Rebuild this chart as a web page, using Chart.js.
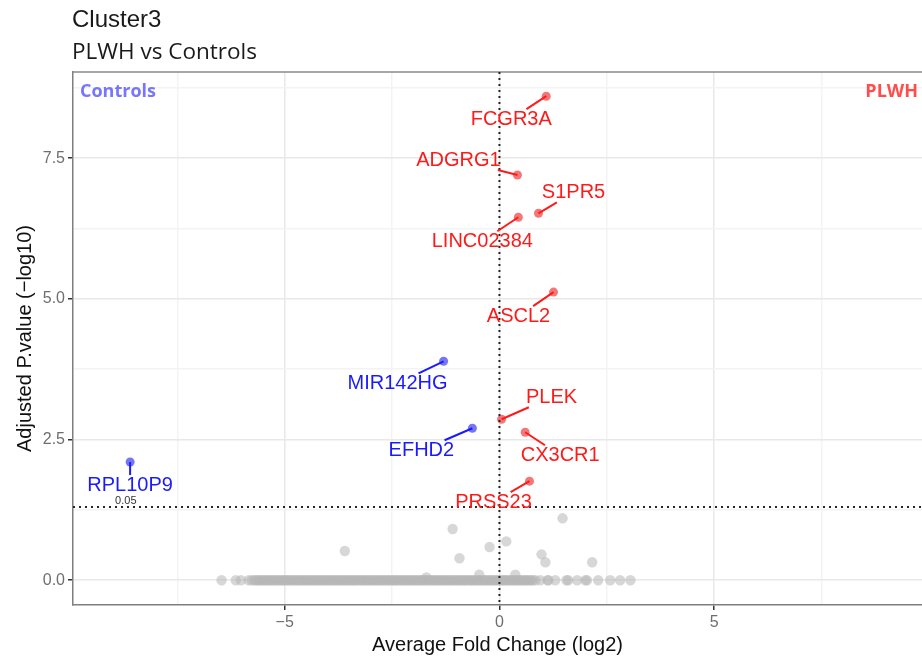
<!DOCTYPE html>
<html>
<head>
<meta charset="utf-8">
<script src="https://cdn.jsdelivr.net/npm/chart.js@4.4.1/dist/chart.umd.min.js"></script>
<style>
  html, body { margin: 0; padding: 0; background: #fff; }
  #wrap { position: relative; width: 922px; height: 660px; }
</style>
</head>
<body>
<div id="wrap"><canvas id="volcano" width="922" height="660"></canvas></div>
<script>
// Genes con etiqueta
const genes = ['FCGR3A', 'ADGRG1', 'S1PR5', 'LINC02384', 'ASCL2', 'MIR142HG', 'PLEK', 'EFHD2', 'CX3CR1', 'PRSS23', 'RPL10P9'];
const geneFC = [1.09, 0.42, 0.91, 0.44, 1.26, -1.30, 0.05, -0.63, 0.60, 0.70, -8.60];
const geneP = [8.60, 7.20, 6.52, 6.45, 5.12, 3.89, 2.86, 2.70, 2.63, 1.76, 2.10];
const geneGroup = ['up', 'up', 'up', 'up', 'up', 'down', 'up', 'down', 'up', 'up', 'down'];

// Genes no significativos dispersos (gris)
const nsFC = [-1.09, -0.23, 1.47, -3.60, -0.93, 0.16, 0.98, 1.07, 2.16, -0.47, 0.37, -1.70];
const nsP = [0.91, 0.59, 1.10, 0.52, 0.39, 0.69, 0.46, 0.32, 0.32, 0.10, 0.10, 0.05];

// Genes no significativos con p ajustado = 1 (-log10 = 0)
const zeroFC = [-6.47, -6.14, -6.02, -5.84, -5.77,
  -5.71, -5.67, -5.62, -5.59, -5.54, -5.51, -5.46, -5.42, -5.39, -5.34, -5.30, -5.27, -5.22, -5.18,
  -5.15, -5.10, -5.06, -5.03, -4.98, -4.94, -4.91, -4.86, -4.83, -4.78, -4.74, -4.71, -4.66, -4.62,
  -4.59, -4.54, -4.50, -4.47, -4.42, -4.38, -4.35, -4.30, -4.27, -4.22, -4.18, -4.15, -4.10, -4.06,
  -4.03, -3.98, -3.95, -3.90, -3.86, -3.83, -3.78, -3.74, -3.71, -3.66, -3.63, -3.58, -3.54, -3.51,
  -3.46, -3.42, -3.39, -3.34, -3.31, -3.26, -3.22, -3.19, -3.14, -3.10, -3.07, -3.02, -2.99, -2.94,
  -2.90, -2.87, -2.82, -2.78, -2.75, -2.70, -2.67, -2.62, -2.58, -2.55, -2.50, -2.46, -2.43, -2.38,
  -2.35, -2.30, -2.26, -2.23, -2.18, -2.14, -2.11, -2.06, -2.03, -1.98, -1.94, -1.91, -1.86, -1.82,
  -1.79, -1.74, -1.71, -1.66, -1.62, -1.59, -1.54, -1.50, -1.47, -1.42, -1.39, -1.34, -1.30, -1.27,
  -1.22, -1.18, -1.15, -1.10, -1.07, -1.02, -0.98, -0.95, -0.90, -0.86, -0.83, -0.78, -0.75, -0.70,
  -0.66, -0.63, -0.58, -0.54, -0.51, -0.46, -0.43, -0.38, -0.34, -0.31, -0.26, -0.22, -0.19, -0.14,
  -0.11, -0.06, -0.02, 0.01, 0.06, 0.10, 0.13, 0.18, 0.21, 0.26, 0.30, 0.33, 0.38, 0.42, 0.45, 0.50,
  0.53, 0.58, 0.62, 0.65, 0.70, 0.74, 0.78, 0.84,
  0.95, 1.12, 1.14, 1.30, 1.56, 1.60, 1.81, 2.00, 2.04, 2.30, 2.58, 2.81, 3.05];
const zeroP = zeroFC.map(() => 0);

const xTicks = [-5, 0, 5];
const yTicks = [0, 2.5, 5, 7.5];
const pCut = 1.301; // -log10(0.05)

// desplazamiento de las etiquetas en pixeles (dx, dy)
const labelOffsets = [[-35, 23], [-59, -15], [35, -21], [-36, 24], [-35, 24], [-46, 22], [50, -22], [-51, 22], [35, 23], [-36, 21], [0, 23]];

const RED = '#ff1a1a';
const BLUE = '#1a1aff';
const FONT = '"Liberation Sans", Arial, sans-serif';

function withMinor(ticks) {
  const step = ticks[1] - ticks[0];
  const out = [ticks[0] - step / 2];
  ticks.forEach(t => { out.push(t); out.push(t + step / 2); });
  return out;
}

const annotate = {
  id: 'annotate',
  afterDatasetsDraw(chart) {
    const { ctx, chartArea: a, scales: { x, y } } = chart;
    ctx.save();
    // borde superior
    ctx.strokeStyle = '#8a8a8a';
    ctx.lineWidth = 1.5;
    ctx.beginPath();
    ctx.moveTo(a.left, a.top);
    ctx.lineTo(a.right, a.top);
    ctx.stroke();

    // lineas de referencia punteadas
    ctx.strokeStyle = '#262626';
    ctx.lineWidth = 2;
    ctx.setLineDash([2, 4]);
    ctx.beginPath();
    ctx.moveTo(x.getPixelForValue(0), a.top);
    ctx.lineTo(x.getPixelForValue(0), a.bottom);
    ctx.moveTo(a.left, y.getPixelForValue(pCut));
    ctx.lineTo(a.right, y.getPixelForValue(pCut));
    ctx.stroke();
    ctx.setLineDash([]);

    ctx.fillStyle = '#333';
    ctx.font = '11px ' + FONT;
    ctx.textAlign = 'center';
    ctx.textBaseline = 'bottom';
    ctx.fillText('0.05', x.getPixelForValue(-8.7), y.getPixelForValue(pCut) - 1);

    // etiquetas de genes
    ctx.font = '20px ' + FONT;
    ctx.textBaseline = 'middle';
    genes.forEach((g, i) => {
      const px = x.getPixelForValue(geneFC[i]);
      const py = y.getPixelForValue(geneP[i]);
      const tx = px + labelOffsets[i][0];
      const ty = py + labelOffsets[i][1];
      const col = geneGroup[i] === 'up' ? RED : BLUE;
      const hw = ctx.measureText(g).width / 2 + 2;
      const hh = 10;
      const dx = px - tx, dy = py - ty;
      let t = 1;
      if (dx !== 0) t = Math.min(t, hw / Math.abs(dx));
      if (dy !== 0) t = Math.min(t, hh / Math.abs(dy));
      ctx.strokeStyle = col;
      ctx.lineWidth = 2;
      ctx.beginPath();
      ctx.moveTo(px, py);
      ctx.lineTo(tx + dx * t, ty + dy * t);
      ctx.stroke();
      ctx.fillStyle = col;
      ctx.fillText(g, tx, ty);
    });

    // rotulos de grupo
    ctx.font = 'bold 18px "Open Sans", sans-serif';
    ctx.textBaseline = 'middle';
    ctx.textAlign = 'left';
    ctx.fillStyle = '#7676ff';
    ctx.fillText('Controls', a.left + 7, a.top + 20);
    ctx.textAlign = 'right';
    ctx.fillStyle = '#ff4d4d';
    ctx.fillText('PLWH', a.right - 4, a.top + 20);
    ctx.restore();
  },
  afterDraw(chart) {
    const { ctx, chartArea: a } = chart;
    ctx.save();
    ctx.textAlign = 'left';
    ctx.textBaseline = 'alphabetic';
    ctx.fillStyle = '#1a1a1a';
    ctx.font = '24px ' + FONT;
    ctx.fillText('Cluster3', a.left - 1, 27);
    ctx.font = '22.5px "Open Sans", sans-serif';
    ctx.fillText('PLWH vs Controls', a.left - 1, 59);
    ctx.restore();
  }
};

const ctx = document.getElementById('volcano').getContext('2d');

new Chart(ctx, {
  type: 'scatter',
  data: {
    datasets: [
      {
        label: 'ns',
        data: nsFC.map((v, i) => ({ x: v, y: nsP[i] })).concat(zeroFC.map((v, i) => ({ x: v, y: zeroP[i] }))),
        backgroundColor: 'rgba(182, 182, 182, 0.55)',
        borderWidth: 0,
        pointRadius: 5.2,
        order: 3
      },
      {
        label: 'down',
        data: genes.map((g, i) => ({ x: geneFC[i], y: geneP[i] })).filter((p, i) => geneGroup[i] === 'down'),
        backgroundColor: 'rgba(60, 60, 240, 0.7)',
        borderWidth: 0,
        pointRadius: 4.5,
        order: 1
      },
      {
        label: 'up',
        data: genes.map((g, i) => ({ x: geneFC[i], y: geneP[i] })).filter((p, i) => geneGroup[i] === 'up'),
        backgroundColor: 'rgba(240, 60, 60, 0.7)',
        borderWidth: 0,
        pointRadius: 4.5,
        order: 1
      }
    ]
  },
  options: {
    responsive: false,
    animation: false,
    events: [],
    layout: { autoPadding: false, padding: { top: 72, left: 0, right: 0, bottom: 0 } },
    plugins: {
      legend: { display: false },
      title: { display: false },
      tooltip: { enabled: false }
    },
    scales: {
      x: {
        type: 'linear',
        min: -9.93,
        max: 9.84,
        afterBuildTicks: s => { s.ticks = withMinor(xTicks).map(v => ({ value: v })); },
        afterFit: s => { s.height = 55; },
        grid: {
          color: c => xTicks.includes(c.tick.value) ? '#e8e8e8' : '#f3f3f3',
          lineWidth: 1.5,
          tickColor: c => xTicks.includes(c.tick.value) ? '#333' : 'rgba(0,0,0,0)',
          tickLength: 5
        },
        border: { color: '#7f7f7f', width: 1.5 },
        ticks: {
          autoSkip: false,
          maxRotation: 0,
          padding: 3,
          color: '#6e6e6e',
          font: { family: FONT, size: 16 },
          callback: v => xTicks.includes(v) ? (v < 0 ? '\u2212' + Math.abs(v) : String(v)) : ''
        },
        title: {
          display: true,
          text: 'Average Fold Change (log2)',
          color: '#111',
          font: { family: FONT, size: 20 },
          padding: { top: 0, bottom: 3 }
        }
      },
      y: {
        type: 'linear',
        min: -0.44,
        max: 9.03,
        afterBuildTicks: s => { s.ticks = withMinor(yTicks).filter(v => v > -0.44 && v < 9.03).map(v => ({ value: v })); },
        afterFit: s => { s.width = 73; },
        grid: {
          color: c => yTicks.includes(c.tick.value) ? '#e8e8e8' : '#f3f3f3',
          lineWidth: 1.5,
          tickColor: c => yTicks.includes(c.tick.value) ? '#333' : 'rgba(0,0,0,0)',
          tickLength: 5
        },
        border: { color: '#7f7f7f', width: 1.5 },
        ticks: {
          autoSkip: false,
          padding: 3,
          color: '#6e6e6e',
          font: { family: FONT, size: 16 },
          callback: v => yTicks.includes(v) ? v.toFixed(1) : ''
        },
        title: {
          display: true,
          text: 'Adjusted P.value (\u2212log10)',
          color: '#111',
          font: { family: FONT, size: 20 },
          padding: { top: 13, bottom: 0 }
        }
      }
    }
  },
  plugins: [annotate]
});
</script>
</body>
</html>
